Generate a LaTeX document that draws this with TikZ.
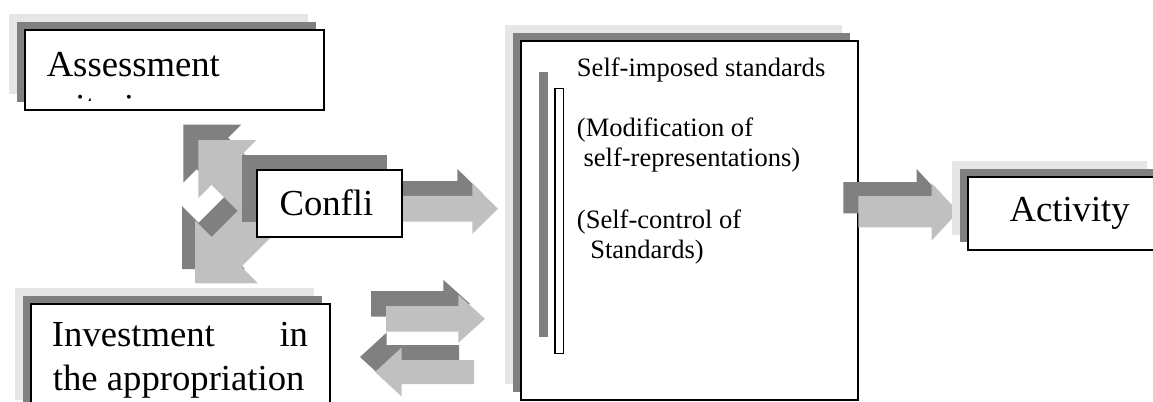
\documentclass[tikz,border=0pt]{standalone}
\usepackage{fontspec}
\setmainfont{Liberation Serif}
\usetikzlibrary{shadows}

\definecolor{shadelight}{RGB}{230,230,230}
\definecolor{shadedark}{RGB}{128,128,128}
\definecolor{arrowlight}{RGB}{192,192,192}

\newcommand{\boxfont}{\fontsize{27.5pt}{32pt}\selectfont}
\newcommand{\stdfont}{\fontsize{19.9pt}{23pt}\selectfont}

\tikzset{
	boxnode/.style={draw, line width=1.4pt, fill=white, inner sep=0pt, outer sep=0pt, anchor=north west,
		general shadow={fill=shadelight, shadow xshift=-12pt, shadow yshift=11.75pt},
		general shadow={fill=shadedark, shadow xshift=-6pt, shadow yshift=6pt}},
	smallbox/.style={draw, line width=1.4pt, fill=white, inner sep=0pt, outer sep=0pt, anchor=north west,
		general shadow={fill=shadedark, shadow xshift=-11.25pt, shadow yshift=11.25pt}},
	barnode/.style={draw, line width=0.8pt, fill=white, inner sep=0pt, outer sep=0pt, anchor=north west,
		minimum width=6.5pt, minimum height=198.75pt,
		general shadow={fill=shadedark, shadow xshift=-12pt, shadow yshift=12.45pt}},
	boxlabel/.style={anchor=base west, inner sep=0pt, font=\boxfont},
	stdtext/.style={anchor=base west, inner sep=0pt, font=\stdfont},
	darkarrow/.style={fill=shadedark},
	lightarrow/.style={fill=arrowlight},
	pics/blockarrow/.style n args={4}{code={
		\path[pic actions] (0,0) -- (-#1,#2) -- (-#1,#3) -- ({-#1-#4},#3) -- ({-#1-#4},-#3) -- (-#1,-#3) -- (-#1,-#2) -- cycle;
	}},
}

\begin{document}
\begin{tikzpicture}[x=0.75pt, y=-0.75pt]

	\useasboundingbox (0,0) rectangle (1153,401);
	\clip (0,0) rectangle (1153,401);

	\pic[darkarrow, rotate=225] at (182,269) {blockarrow={44.5}{44.5}{21}{58}};
	\pic[lightarrow, rotate=225] at (195,283.3) {blockarrow={44.5}{44.5}{21}{58}};
	\pic[darkarrow, rotate=135] at (183.3,124.5) {blockarrow={41}{41}{22.3}{70}};
	\pic[lightarrow, rotate=135] at (198.3,140) {blockarrow={41}{41}{22.3}{70}};
	\pic[darkarrow] at (483,194) {blockarrow={25.6}{25}{12.85}{77.7}};
	\pic[lightarrow] at (498,208.8) {blockarrow={25.6}{25}{12.85}{77.7}};

	\node[smallbox, minimum width=108.75pt, minimum height=50pt] (conflict) at (256.7,170) {};
	\node[boxlabel] (conflicttext) at (279.3,215) {Confli};

	\pic[darkarrow] at (470,303.8) {blockarrow={26.7}{24}{12.8}{72.3}};
	\pic[lightarrow] at (485,318.8) {blockarrow={26.7}{24}{12.8}{72.3}};
	\pic[darkarrow, rotate=180] at (360,357) {blockarrow={26.7}{24.5}{12}{72.3}};
	\pic[lightarrow, rotate=180] at (375,372) {blockarrow={26.7}{24.5}{12}{72.3}};

	\node[boxnode, minimum width=224.25pt, minimum height=60pt] (assess) at (25,30) {};
	\node[boxlabel] (assesstext) at (46.5,76) {Assessment};
	\begin{scope}
		\clip (25,30) rectangle (324,100);
		\node[boxlabel] (assesscrit) at (46.5,119.3) {criteria};
	\end{scope}

	\node[boxnode, minimum width=224.5pt, minimum height=84pt] (invest) at (30.7,304) {};
	\node[boxlabel] (investword) at (51.7,346.7) {Investment};
	\node[boxlabel, anchor=base east] (inword) at (308.3,346.7) {in};
	\node[boxlabel] (approp) at (52.7,390) {the appropriation};

	\node[boxnode, minimum width=252.5pt, minimum height=269.5pt] (standards) at (521,40.7) {};
	\node[barnode] (stdbar) at (555,88.3) {};
	\node[stdtext] (stdtitle) at (576.7,76) {Self-imposed standards};
	\node[stdtext] (modif) at (576.7,136.7) {(Modification of};
	\node[stdtext] (selfrep) at (583.3,166.7) {self-representations)};
	\node[stdtext] (selfctrl) at (576.7,228.3) {(Self-control of};
	\node[stdtext] (stdword) at (590,258.3) {Standards)};

	\pic[darkarrow] at (943.3,197.8) {blockarrow={26.6}{28.7}{15.6}{73.4}};
	\pic[lightarrow] at (958.3,211.8) {blockarrow={26.6}{28.7}{15.6}{73.4}};

	\node[boxnode, minimum width=145.8pt, minimum height=55.2pt] (activity) at (968.3,176.7) {};
	\node[boxlabel] (activitytext) at (1009.3,221.7) {Activity};

\end{tikzpicture}
\end{document}
